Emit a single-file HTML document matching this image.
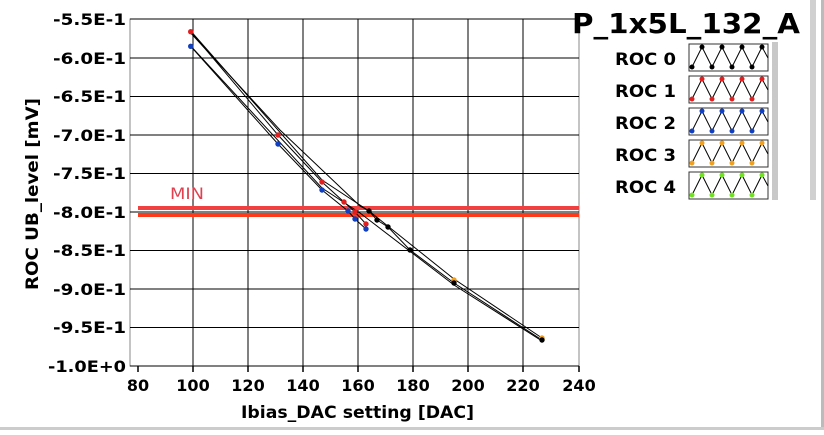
<!DOCTYPE html>
<html><head><style>
body{margin:0;width:824px;height:430px;background:#fff;overflow:hidden}
</style></head><body>
<svg width="824" height="430" xmlns="http://www.w3.org/2000/svg" font-family="DejaVu Sans, sans-serif">
<rect x="0" y="0" width="824" height="430" fill="#fff"/>
<rect x="821" y="0" width="3" height="430" fill="#bbb"/>
<rect x="0" y="427" width="824" height="3" fill="#ccc"/>
<rect x="130" y="19" width="449" height="347" fill="#fff" stroke="#888" stroke-width="1"/>
<g stroke="#000" stroke-width="1">
<line x1="193" y1="19" x2="193" y2="366"/><line x1="248" y1="19" x2="248" y2="366"/>
<line x1="303" y1="19" x2="303" y2="366"/><line x1="358" y1="19" x2="358" y2="366"/>
<line x1="413" y1="19" x2="413" y2="366"/><line x1="468" y1="19" x2="468" y2="366"/>
<line x1="523" y1="19" x2="523" y2="366"/>
<line x1="130" y1="58" x2="579" y2="58"/><line x1="130" y1="96.5" x2="579" y2="96.5"/>
<line x1="130" y1="135" x2="579" y2="135"/><line x1="130" y1="173.5" x2="579" y2="173.5"/>
<line x1="130" y1="212" x2="579" y2="212"/><line x1="130" y1="250.5" x2="579" y2="250.5"/>
<line x1="130" y1="289" x2="579" y2="289"/><line x1="130" y1="327.5" x2="579" y2="327.5"/>
<line x1="130" y1="19" x2="579" y2="19"/>
<line x1="130" y1="366" x2="579" y2="366"/>
</g>
<g stroke="#000" stroke-width="1.5">
<line x1="138" y1="366" x2="138" y2="372"/><line x1="193" y1="366" x2="193" y2="372"/><line x1="248" y1="366" x2="248" y2="372"/><line x1="303" y1="366" x2="303" y2="372"/><line x1="358" y1="366" x2="358" y2="372"/><line x1="413" y1="366" x2="413" y2="372"/><line x1="468" y1="366" x2="468" y2="372"/><line x1="523" y1="366" x2="523" y2="372"/><line x1="579" y1="366" x2="579" y2="372"/>
</g>
<rect x="138" y="206" width="441" height="4" fill="#f04040"/>
<rect x="138" y="213" width="441" height="4" fill="#ff3a1a"/>
<text x="170" y="199" font-size="16" fill="#e04050" textLength="34" lengthAdjust="spacingAndGlyphs">MIN</text>
<g fill="none" stroke="#000" stroke-width="1">
<polyline points="190.7,31.7 278,135 322,182 344,202 355,212 366,224"/>
<polyline points="190.7,46.3 278,144 322,190 348,211 355,219 366,229"/>
<polyline points="190.7,33 280,130 360,206 369,211 377,220 388,227 410,250 454,283 542,340"/>
<polyline points="190.7,31 322,180 369,211 454,279 542,338"/>
<polyline points="190.7,46 322,188 360,213 454,285 542,341"/>
</g>
<g fill="#e02020"><circle cx="190.7" cy="31.7" r="2.7"/><circle cx="278" cy="135" r="2.7"/><circle cx="322" cy="182" r="2.7"/><circle cx="344" cy="202" r="2.7"/><circle cx="355" cy="212" r="2.7"/><circle cx="366" cy="224" r="2.7"/></g>
<g fill="#1040c0"><circle cx="190.7" cy="46.3" r="2.7"/><circle cx="278" cy="144" r="2.7"/><circle cx="322" cy="190" r="2.7"/><circle cx="348" cy="211" r="2.7"/><circle cx="355" cy="219" r="2.7"/><circle cx="366" cy="229" r="2.7"/></g>
<g fill="#f0a020"><circle cx="454" cy="280" r="2.7"/><circle cx="542" cy="338" r="2.7"/></g>
<g fill="#000"><circle cx="369" cy="211" r="2.7"/><circle cx="377" cy="220" r="2.7"/><circle cx="388" cy="227" r="2.7"/><circle cx="410" cy="250" r="2.7"/><circle cx="454" cy="283" r="2.7"/><circle cx="542" cy="340" r="2.7"/></g>
<g font-size="16" font-weight="bold" fill="#000">
<text x="53" y="25" textLength="73" lengthAdjust="spacingAndGlyphs">-5.5E-1</text>
<text x="53" y="64" textLength="73" lengthAdjust="spacingAndGlyphs">-6.0E-1</text>
<text x="53" y="102" textLength="73" lengthAdjust="spacingAndGlyphs">-6.5E-1</text>
<text x="53" y="141" textLength="73" lengthAdjust="spacingAndGlyphs">-7.0E-1</text>
<text x="53" y="179" textLength="73" lengthAdjust="spacingAndGlyphs">-7.5E-1</text>
<text x="53" y="218" textLength="73" lengthAdjust="spacingAndGlyphs">-8.0E-1</text>
<text x="53" y="256" textLength="73" lengthAdjust="spacingAndGlyphs">-8.5E-1</text>
<text x="53" y="295" textLength="73" lengthAdjust="spacingAndGlyphs">-9.0E-1</text>
<text x="53" y="333" textLength="73" lengthAdjust="spacingAndGlyphs">-9.5E-1</text>
<text x="48" y="372" textLength="78" lengthAdjust="spacingAndGlyphs">-1.0E+0</text>
</g>
<g font-size="16" font-weight="bold" text-anchor="middle" fill="#000">
<text x="138" y="391">80</text><text x="193" y="391">100</text><text x="248" y="391">120</text><text x="303" y="391">140</text><text x="358" y="391">160</text><text x="413" y="391">180</text><text x="468" y="391">200</text><text x="523" y="391">220</text><text x="579" y="391">240</text>
</g>
<text x="241" y="418" font-size="17" font-weight="bold" textLength="233" lengthAdjust="spacingAndGlyphs">Ibias_DAC setting [DAC]</text>
<text transform="translate(38,290) rotate(-90)" font-size="17" font-weight="bold" textLength="192" lengthAdjust="spacingAndGlyphs">ROC UB_level [mV]</text>
<text x="572" y="33" font-size="28" font-weight="bold" textLength="228" lengthAdjust="spacingAndGlyphs">P_1x5L_132_A</text>
<rect x="580" y="40" width="192" height="160" fill="#fff"/>
<rect x="772" y="42" width="6" height="158" fill="#c8c8c8"/>
<rect x="810" y="0" width="6" height="200" fill="#d0d0d0"/>
<g font-size="17" font-weight="bold">
<text x="615" y="65" textLength="61" lengthAdjust="spacingAndGlyphs">ROC 0</text>
<text x="615" y="97" textLength="61" lengthAdjust="spacingAndGlyphs">ROC 1</text>
<text x="615" y="129" textLength="61" lengthAdjust="spacingAndGlyphs">ROC 2</text>
<text x="615" y="161" textLength="61" lengthAdjust="spacingAndGlyphs">ROC 3</text>
<text x="615" y="193" textLength="61" lengthAdjust="spacingAndGlyphs">ROC 4</text>
</g>
<g stroke="#333" fill="#fff" stroke-width="1">
<rect x="689" y="44" width="79" height="27"/><rect x="689" y="76" width="79" height="27"/><rect x="689" y="108" width="79" height="27"/><rect x="689" y="140" width="79" height="27"/><rect x="689" y="172" width="79" height="27"/>
</g>
<g fill="none" stroke="#000" stroke-width="1">
<polyline points="692,67 702,47 712,67 722,47 732,67 742,47 752,67 762,47 768,58"/>
<polyline points="692,99 702,79 712,99 722,79 732,99 742,79 752,99 762,79 768,90"/>
<polyline points="692,131 702,111 712,131 722,111 732,131 742,111 752,131 762,111 768,122"/>
<polyline points="692,163 702,143 712,163 722,143 732,163 742,143 752,163 762,143 768,154"/>
<polyline points="692,195 702,175 712,195 722,175 732,195 742,175 752,195 762,175 768,186"/>
</g>
<g fill="#000"><circle cx="702" cy="47" r="2.5"/><circle cx="722" cy="47" r="2.5"/><circle cx="742" cy="47" r="2.5"/><circle cx="762" cy="47" r="2.5"/><circle cx="692" cy="67" r="2.5"/><circle cx="712" cy="67" r="2.5"/><circle cx="732" cy="67" r="2.5"/><circle cx="752" cy="67" r="2.5"/></g>
<g fill="#e02020"><circle cx="702" cy="79" r="2.5"/><circle cx="722" cy="79" r="2.5"/><circle cx="742" cy="79" r="2.5"/><circle cx="762" cy="79" r="2.5"/><circle cx="692" cy="99" r="2.5"/><circle cx="712" cy="99" r="2.5"/><circle cx="732" cy="99" r="2.5"/><circle cx="752" cy="99" r="2.5"/></g>
<g fill="#1040c0"><circle cx="702" cy="111" r="2.5"/><circle cx="722" cy="111" r="2.5"/><circle cx="742" cy="111" r="2.5"/><circle cx="762" cy="111" r="2.5"/><circle cx="692" cy="131" r="2.5"/><circle cx="712" cy="131" r="2.5"/><circle cx="732" cy="131" r="2.5"/><circle cx="752" cy="131" r="2.5"/></g>
<g fill="#f0a020"><circle cx="702" cy="143" r="2.5"/><circle cx="722" cy="143" r="2.5"/><circle cx="742" cy="143" r="2.5"/><circle cx="762" cy="143" r="2.5"/><circle cx="692" cy="163" r="2.5"/><circle cx="712" cy="163" r="2.5"/><circle cx="732" cy="163" r="2.5"/><circle cx="752" cy="163" r="2.5"/></g>
<g fill="#70e020"><circle cx="702" cy="175" r="2.5"/><circle cx="722" cy="175" r="2.5"/><circle cx="742" cy="175" r="2.5"/><circle cx="762" cy="175" r="2.5"/><circle cx="692" cy="195" r="2.5"/><circle cx="712" cy="195" r="2.5"/><circle cx="732" cy="195" r="2.5"/><circle cx="752" cy="195" r="2.5"/></g>
</svg>
</body></html>
